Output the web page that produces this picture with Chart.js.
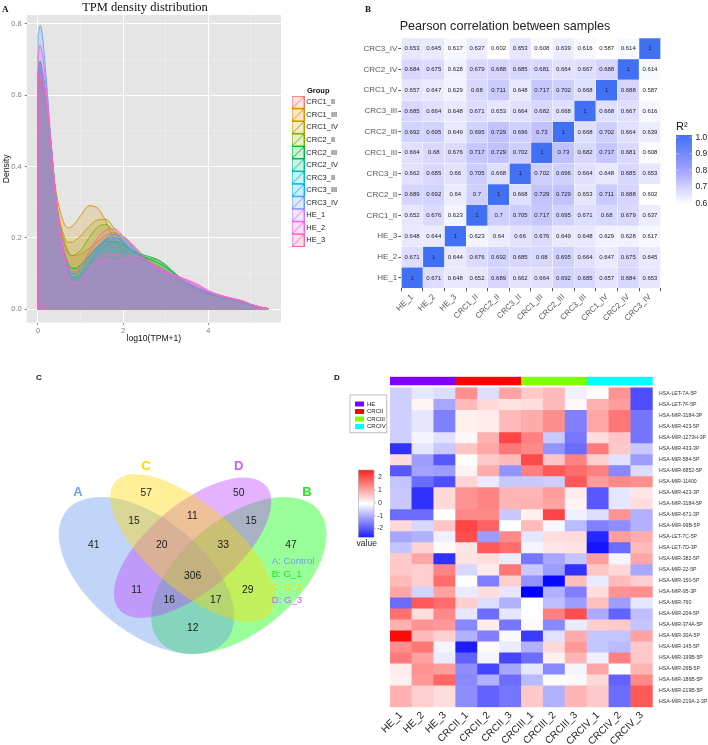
<!DOCTYPE html>
<html><head><meta charset="utf-8">
<script src="https://cdn.jsdelivr.net/npm/chart.js@4"></script>
<style>
html,body{margin:0;padding:0;background:#fff;width:708px;height:745px;overflow:hidden}
canvas{position:absolute;display:block}
.tag{position:absolute;font-weight:bold;color:#111;line-height:1}
</style></head><body>
<canvas id="cA" style="left:0;top:0" width="350" height="345"></canvas>
<canvas id="cB" style="top:0;left:350px" width="358" height="345"></canvas>
<canvas id="cC" style="left:0;top:345px" width="340" height="340"></canvas>
<canvas id="cD" style="left:340px;top:340px" width="368" height="405"></canvas>
<div class="tag" style="left:2px;top:4px;font:bold 9px 'Liberation Serif'">A</div>
<div class="tag" style="left:365px;top:4px;font:bold 9px 'Liberation Serif'">B</div>
<div class="tag" style="left:36px;top:373px;font:bold 8px 'Liberation Sans'">C</div>
<div class="tag" style="left:334px;top:373px;font:bold 8px 'Liberation Sans'">D</div>
<script>
/* ---------- Panel A data ---------- */
const densityGroups=['CRC1_II','CRC1_III','CRC1_IV','CRC2_II','CRC2_III','CRC2_IV','CRC3_II','CRC3_III','CRC3_IV','HE_1','HE_2','HE_3'];
const densityX=[0,.05,.1,.2,.3,.4,.5,.6,.7,.8,.9,1,1.2,1.4,1.6,1.8,2,2.2,2.4,2.6,2.8,3,3.2,3.4,3.6,3.8,4,4.2,4.4,4.6,4.8,5,5.2,5.4];
const crc1II =[.65,.67,.65,.57,.465,.335,.25,.2,.165,.15,.15,.155,.17,.19,.208,.215,.205,.185,.16,.135,.118,.105,.093,.08,.067,.055,.045,.038,.032,.027,.022,.013,.007,.003];
const crc1III=[.625,.645,.63,.565,.465,.35,.285,.245,.228,.232,.245,.262,.29,.283,.245,.195,.17,.152,.142,.132,.122,.108,.093,.078,.065,.053,.042,.036,.03,.026,.02,.012,.006,.002];
const crc1IV =[.62,.64,.62,.56,.465,.34,.255,.21,.188,.188,.195,.205,.232,.25,.252,.225,.19,.165,.152,.143,.138,.122,.1,.082,.067,.054,.043,.036,.03,.026,.021,.012,.006,.002];
const crc2II =[.64,.665,.645,.57,.465,.335,.24,.19,.16,.15,.155,.165,.2,.23,.237,.215,.185,.165,.15,.14,.132,.118,.1,.082,.067,.054,.044,.037,.031,.026,.021,.012,.006,.002];
const crc2III=[.67,.695,.67,.585,.47,.335,.23,.17,.13,.115,.115,.125,.15,.175,.19,.19,.18,.165,.155,.148,.14,.125,.103,.083,.067,.054,.043,.036,.03,.026,.022,.013,.006,.002];
const crc2IV =[.665,.69,.665,.58,.47,.335,.22,.155,.11,.09,.09,.1,.13,.16,.18,.19,.182,.165,.152,.142,.132,.118,.1,.083,.068,.055,.044,.037,.031,.026,.021,.012,.006,.002];
const crc3II =[.65,.672,.65,.575,.47,.335,.22,.16,.12,.1,.1,.11,.145,.175,.195,.2,.19,.17,.15,.13,.115,.103,.09,.078,.067,.056,.047,.04,.034,.028,.023,.014,.007,.002];
const crc3III=[.66,.682,.66,.58,.47,.335,.215,.15,.105,.085,.085,.095,.13,.17,.198,.21,.2,.18,.155,.13,.112,.1,.088,.076,.066,.056,.048,.041,.035,.029,.024,.014,.007,.002];
const crc3IV =[.77,.795,.77,.64,.48,.34,.24,.165,.115,.09,.085,.095,.13,.165,.19,.2,.195,.175,.15,.125,.11,.1,.09,.08,.07,.06,.05,.042,.033,.027,.022,.012,.006,.002];
const he1    =[.66,.685,.66,.585,.47,.335,.215,.15,.1,.078,.075,.082,.11,.135,.138,.135,.14,.142,.135,.125,.115,.105,.095,.083,.072,.06,.048,.04,.034,.029,.024,.014,.007,.002];
const he2    =[.715,.74,.715,.615,.47,.335,.225,.15,.1,.072,.07,.078,.11,.14,.153,.153,.15,.15,.145,.135,.12,.107,.097,.088,.078,.067,.053,.043,.036,.03,.023,.014,.007,.002];
const he3    =[.64,.66,.64,.57,.465,.335,.235,.17,.125,.105,.105,.12,.16,.2,.222,.225,.205,.18,.155,.132,.115,.102,.093,.085,.076,.065,.05,.041,.034,.029,.023,.014,.007,.002];
const densitySeries=[crc1II,crc1III,crc1IV,crc2II,crc2III,crc2IV,crc3II,crc3III,crc3IV,he1,he2,he3];
const densityColors=['#F8766D','#DE8C00','#B79F00','#7CAE00','#00BA38','#00C08B','#00BFC4','#00B4F0','#619CFF','#C77CFF','#F564E3','#FF64B0'];
const xTicksA=[0,1,2,3,4,5], yTicksA=[0,.1,.2,.3,.4,.5,.6,.7,.8];

/* ---------- Panel B data ---------- */
const corrLabels=['HE_1','HE_2','HE_3','CRC1_II','CRC2_II','CRC3_II','CRC1_III','CRC2_III','CRC3_III','CRC1_IV','CRC2_IV','CRC3_IV'];
const corrHE1  =[1,.671,.648,.652,.689,.662,.664,.692,.685,.657,.684,.653];
const corrHE2  =[.671,1,.644,.676,.692,.685,.68,.695,.664,.647,.675,.645];
const corrHE3  =[.648,.644,1,.623,.64,.66,.676,.649,.648,.629,.628,.617];
const corrC1II =[.652,.676,.623,1,.7,.705,.717,.695,.671,.68,.679,.637];
const corrC2II =[.689,.692,.64,.7,1,.668,.729,.729,.653,.711,.688,.602];
const corrC3II =[.662,.685,.66,.705,.668,1,.702,.696,.664,.648,.685,.653];
const corrC1III=[.664,.68,.676,.717,.729,.702,1,.73,.682,.717,.681,.608];
const corrC2III=[.692,.695,.649,.695,.729,.696,.73,1,.668,.702,.664,.639];
const corrC3III=[.685,.664,.648,.671,.653,.664,.682,.668,1,.668,.667,.616];
const corrC1IV =[.657,.647,.629,.68,.711,.648,.717,.702,.668,1,.688,.587];
const corrC2IV =[.684,.675,.628,.679,.688,.685,.681,.664,.667,.688,1,.614];
const corrC3IV =[.653,.645,.617,.637,.602,.653,.608,.639,.616,.587,.614,1];
const corrRows=[corrHE1,corrHE2,corrHE3,corrC1II,corrC2II,corrC3II,corrC1III,corrC2III,corrC3III,corrC1IV,corrC2IV,corrC3IV];
const r2Ticks=[1.0,.9,.8,.7,.6];

/* ---------- Panel C data ---------- */
const vennCounts=[41,57,50,47,15,11,15,20,33,11,306,29,16,17,12];
const vennKey=['A: Control','B: G_1','C: G_2','D: G_3'];
const vennSets=['A','B','C','D'];

/* ---------- Panel D data (top row first) ---------- */
const heatCols=['HE_1','HE_2','HE_3','CRCII_1','CRCII_2','CRCII_3','CRCIII_1','CRCIII_2','CRCIII_3','CRCIV_1','CRCIV_2','CRCIV_3'];
const heatRows=['HSA-LET-7A-5P','HSA-LET-7F-5P','HSA-MIR-3184-3P','HSA-MIR-423-5P','HSA-MIR-1273H-3P','HSA-MIR-433-3P','HSA-MIR-584-5P','HSA-MIR-6852-5P','HSA-MIR-11400','HSA-MIR-423-3P','HSA-MIR-3184-5P','HSA-MIR-671-3P','HSA-MIR-99B-5P','HSA-LET-7C-5P','HSA-LET-7D-3P','HSA-MIR-382-5P','HSA-MIR-22-5P','HSA-MIR-150-5P','HSA-MIR-95-3P','HSA-MIR-760','HSA-MIR-204-5P','HSA-MIR-374A-5P','HSA-MIR-30A-5P','HSA-MIR-145-5P','HSA-MIR-199B-5P','HSA-MIR-26B-5P','HSA-MIR-186B-5P','HSA-MIR-219B-5P','HSA-MIR-219A-2-3P'];
const heatValues=[
[-.5,-.25,-.35,1.15,-.35,.95,.55,.7,-.15,.03,1.1,-1.8],
[-.5,.1,-.9,.7,.4,.3,.35,.7,.05,.8,1,-1.8],
[-.5,-.25,-1.3,.15,.2,.7,.85,1.15,-1.3,.9,1.4,-1.4],
[-.5,-.25,-1.3,.15,.2,.7,.85,1.15,-1.3,.9,1.4,-1.4],
[-.5,-.1,-.3,.08,.8,1.9,1.3,-.55,-1.4,.35,.6,-1.4],
[-2.1,-.25,-.55,.6,.9,1.4,1.2,-1.1,-1.5,1.35,.55,-.55],
[.35,-1,-1.7,.03,.55,.7,1.85,.6,1.3,.5,-.3,-1],
[-1.7,-.95,-1,.12,.85,-1.1,1.3,1.7,1.5,1.3,-1.2,-.35],
[-.6,-1.5,-1.8,.45,-.2,-.55,-.55,-.5,1.7,1,1.2,1.15],
[-.55,-2.1,.4,1.1,1.25,.75,.75,1,.2,-1.7,-.25,.25],
[-.55,-2.1,.4,1.1,1.25,.75,.8,.95,.12,-1.7,-.25,.35],
[-1.5,-1.5,0,1.2,1.2,-.55,.15,1.9,-.15,-.35,1.1,-.8],
[.4,-.4,.6,1.9,1.6,0,.7,-.08,-.7,-1.3,-1.15,-.8],
[-.9,-.8,-.15,1.8,-1,1.2,-.25,.35,.35,-2.2,1,.85],
[-.6,.45,.05,.25,1.7,1.5,-.1,.25,.3,-2.4,-1.5,.7],
[.55,.9,-2.1,.3,.35,-.2,-1.4,-.9,-.6,1,-.1,.9],
[.55,.5,1.25,-.4,.2,1.4,-.55,-1,-2.1,.6,.4,-.9],
[.7,.5,1.5,0,-1.3,.5,-1.1,-2.5,.65,-.2,.7,.5],
[.9,-.45,.95,-.2,.35,-.25,-2.6,-.8,-1.3,.35,1.1,1.15],
[-1.5,1.7,1.5,.5,-.35,-.8,0,-.65,-1,.65,-1,-.25],
[1.45,.35,1.2,-.25,-1.5,-.25,0,1.3,1.8,-.85,-1.6,-.65],
[.8,1.1,1.05,-1.2,.2,-1.4,.05,-1.2,-.2,.5,.55,-.6],
[2.5,.7,.5,-.8,-1.3,-.05,-2,-.3,.85,-.6,-.6,.95],
[1.15,1.4,-.1,-2.3,.05,-.2,-.8,.4,1.05,-.6,-.7,.55],
[1.35,.95,-.2,-1.6,-.1,-1.9,-1.5,.15,.75,-.15,1.3,.55],
[.2,1.1,1,-1.15,-1.9,-.9,-.25,-1.2,-.1,.9,0,.75],
[.15,1.05,1.55,-1.2,-.8,-1.5,-.7,.05,.07,.4,-1.6,1.2],
[.8,.5,.35,-1.15,-1.6,-1.4,.55,-.8,.75,.55,-1.5,1.7],
[.8,.5,.35,-1.15,-1.6,-1.4,.55,-.8,.75,.55,-1.5,1.7]];
const heatGroups=['HE','CRCII','CRCIII','CRCIV'];
const heatGroupOfCol=[0,0,0,1,1,1,2,2,2,3,3,3];
const zTicks=[2,1,0,-1,-2];

/* ---------- layout and style ---------- */
const SANS="'Liberation Sans',Arial,sans-serif";
const groupColors=['#8000FF','#FF0000','#80FF00','#00FFFF'];
const vennInk=['#6f9cf2','#1fe81f','#ffd700','#c65cff'];
/* drawn in this order: B, A, D, C */
const vennFill=['rgba(0,255,0,.4)','rgba(100,149,237,.4)','rgba(191,62,255,.4)','rgba(255,215,0,.4)'];
const vennEllipses=[[238.8,575.5,103,57,-39],[146.5,575.5,103,57,39],[192.6,547.7,96,43.7,-40],[192.6,548,102,43,40.5]];
const vennSetAnchors=[[78,492],[307,492],[146,466],[238.7,466]];
const vennCountAnchors=[[93.7,545],[146.3,493.3],[238.7,493.3],[291,545],[134,520.7],[192.3,515.7],[251,520.7],[161.7,545],[223.3,545],[136.7,589.7],[192.7,575.7],[247.7,589.7],[169.3,600.3],[215.7,600.3],[192.7,628]];
const vennKeyAnchors=[[271.7,561.3],[271.7,574.7],[271.7,587.7],[271.7,600.3]];

Chart.defaults.animation=false;
Chart.defaults.responsive=false;
Chart.defaults.devicePixelRatio=1;
Chart.defaults.font.family=SANS;
Chart.defaults.plugins.tooltip.enabled=false;

function blueRamp(v){
  const lo=[255,255,255],mid=[160,160,255],hi=[66,112,245];
  let a,b,t;
  if(v<=.8){a=lo;b=mid;t=Math.max(0,(v-.6)/.2);}else{a=mid;b=hi;t=Math.min(1,(v-.8)/.2);}
  return 'rgb('+a.map((c,i)=>Math.round(c+(b[i]-c)*t)).join(',')+')';
}
function divRamp(z){
  const k=Math.round(255*(1-Math.min(1,Math.abs(z)/2.6)));
  return z>=0?`rgb(255,${k},${k})`:`rgb(${k},${k},255)`;
}
function fixWidth(w){return s=>{s.width=w;};}
function fixHeight(h){return s=>{s.height=h;};}
function moveLegend(chart,x,y){
  const l=chart.legend,w=l.width,h=l.height;
  l.left=x;l.top=y;l.right=x+w;l.bottom=y+h;
}
function keyImage(col){
  const c=document.createElement('canvas');c.width=13;c.height=13;
  const g=c.getContext('2d');
  g.globalAlpha=.2;g.fillStyle=col;g.fillRect(0,0,13,13);
  g.globalAlpha=1;g.strokeStyle=col;g.lineWidth=1;g.strokeRect(.5,.5,12,12);
  g.beginPath();g.moveTo(.5,12.5);g.lineTo(12.5,.5);g.stroke();
  return c;
}

/* ---------- Panel A ---------- */
new Chart(document.getElementById('cA'),{
  type:'scatter',
  data:{datasets:[...densityGroups.map((g,i)=>({
    label:g,
    data:[{x:densityX[0],y:0},...densityX.map((x,k)=>({x,y:densitySeries[i][k]})),{x:densityX[densityX.length-1],y:0}],
    showLine:true,fill:'origin',pointRadius:0,borderWidth:.9,
    borderColor:densityColors[i],backgroundColor:densityColors[i]+'33',
    cubicInterpolationMode:'monotone',order:12-i
  })),{label:'baseline',data:[{x:densityX[0],y:0},{x:densityX[densityX.length-1],y:0}],
    showLine:true,fill:false,pointRadius:0,borderWidth:1.2,borderColor:densityColors[11],order:0}]},
  options:{
    layout:{padding:{left:0,right:69,top:0,bottom:0}},
    scales:{
      x:{type:'linear',min:-.265,max:5.71,
        afterBuildTicks:s=>{s.ticks=xTicksA.map(value=>({value}));},
        afterFit:fixHeight(22.3),
        border:{display:false},
        grid:{drawTicks:true,tickLength:2,tickColor:c=>c.tick&&c.tick.value%2===0?'#7f7f7f':'rgba(0,0,0,0)',
              color:c=>c.tick&&c.tick.value%2===0?'#ffffff':'#f0f0f0',lineWidth:c=>c.tick&&c.tick.value%2===0?1:.5},
        ticks:{autoSkip:false,maxRotation:0,padding:2,color:'#7f7f7f',font:{size:7.5},
               callback:v=>v%2===0?String(v):''},
        title:{display:true,text:'log10(TPM+1)',color:'#111',font:{size:8.6},padding:{top:0,bottom:1}}
      },
      y:{type:'linear',min:-.0375,max:.824,
        afterBuildTicks:s=>{s.ticks=yTicksA.map(value=>({value}));},
        afterFit:fixWidth(26.7),
        border:{display:false},
        grid:{drawTicks:true,tickLength:2,
              tickColor:c=>c.tick&&Math.round(c.tick.value*10)%2===0?'#7f7f7f':'rgba(0,0,0,0)',
              color:c=>c.tick&&Math.round(c.tick.value*10)%2===0?'#ffffff':'#f0f0f0',
              lineWidth:c=>c.tick&&Math.round(c.tick.value*10)%2===0?1:.5},
        ticks:{autoSkip:false,padding:3,color:'#7f7f7f',font:{size:7.5},
               callback:v=>Math.round(v*10)%2===0?v.toFixed(1):''},
        title:{display:true,text:'Density',color:'#111',font:{size:8.6},padding:{top:1,bottom:0}}
      }
    },
    plugins:{
      title:{display:true,text:'TPM density distribution',color:'#111',
        font:{family:"'Liberation Serif',serif",size:12.5,weight:'normal'},padding:{top:0,bottom:0}},
      legend:{display:true,position:'chartArea',align:'start',
        title:{display:true,text:'Group',color:'#111',font:{size:7.5,weight:'bold'},padding:{top:0,bottom:-2.5}},
        labels:{usePointStyle:true,pointStyleWidth:9,padding:5.05,color:'#222',font:{size:7.5},
          generateLabels:()=>densityGroups.map((g,i)=>({text:g,pointStyle:keyImage(densityColors[i]),fontColor:'#222',datasetIndex:i,hidden:false,lineWidth:0}))}
      }
    }
  },
  plugins:[{id:'placeA',
    afterLayout(ch){
      moveLegend(ch,288.5,87);
      const t=ch.titleBlock;t.left+=4.5;t.right+=4.5;
    },
    beforeDraw(ch){
      const a=ch.chartArea,c=ch.ctx;c.save();c.fillStyle='#e5e5e5';c.fillRect(a.left,a.top,a.width,a.height);c.restore();
    }
  }]
});

/* ---------- Panel B ---------- */
new Chart(document.getElementById('cB'),{
  type:'bar',
  data:{labels:corrLabels,datasets:corrRows.map((row,r)=>({
    label:corrLabels[r],
    data:row.map(()=>[r,r+1]),
    backgroundColor:row.map(blueRamp),
    borderColor:'rgba(255,255,255,.3)',borderWidth:.5,
    barPercentage:1,categoryPercentage:1,grouped:false
  }))},
  options:{
    layout:{padding:{left:0,right:47.3,top:0,bottom:0}},
    scales:{
      x:{offset:true,afterFit:fixHeight(56.7),border:{display:false},
        grid:{drawOnChartArea:false,drawTicks:true,tickLength:3,tickColor:'#555'},
        ticks:{autoSkip:false,minRotation:45,maxRotation:45,padding:1,color:'#555',font:{size:8}}},
      y:{type:'linear',min:0,max:12,
        afterBuildTicks:s=>{s.ticks=corrLabels.map((_,i)=>({value:i+.5}));},
        afterFit:fixWidth(51.3),border:{display:false},
        grid:{drawOnChartArea:false,drawTicks:true,tickLength:3,tickColor:'#555'},
        ticks:{autoSkip:false,padding:1,color:'#555',font:{size:8},callback:v=>corrLabels[v-.5]}}
    },
    plugins:{
      legend:{display:false},
      title:{display:true,text:'Pearson correlation between samples',align:'start',color:'#222',
        font:{size:12.6,weight:'normal'},padding:{top:19,bottom:4}}
    }
  },
  plugins:[{id:'cellsB',
    afterLayout(ch){const t=ch.titleBlock;const d=49.7-t.left;t.left+=d;t.right+=d;},
    afterDatasetsDraw(ch){
      const c=ch.ctx,X=ch.scales.x,Y=ch.scales.y;
      c.save();c.fillStyle='#222';c.font='6px '+SANS;c.textAlign='center';c.textBaseline='middle';
      corrRows.forEach((row,r)=>row.forEach((v,k)=>{
        c.fillText(String(v),X.getPixelForValue(k),Y.getPixelForValue(r+.5));
      }));
      const left=326,w=16,top=135,bot=204;
      const g=c.createLinearGradient(0,top,0,bot);
      [1,.95,.9,.85,.8,.75,.7,.65,.6].forEach(v=>g.addColorStop((1-v)/.4,blueRamp(v)));
      c.fillStyle=g;c.fillRect(left,top,w,bot-top);
      c.fillStyle='#222';c.font='8.5px '+SANS;c.textAlign='left';
      const yy=v=>137.3+(1-v)*165.5;
      r2Ticks.forEach(v=>{
        const y=yy(v);
        c.fillText(v.toFixed(1),left+w+3.5,y);
        c.strokeStyle='rgba(255,255,255,.8)';c.lineWidth=.5;
        c.beginPath();c.moveTo(left,y);c.lineTo(left+3,y);c.moveTo(left+w-3,y);c.lineTo(left+w,y);c.stroke();
      });
      c.font='11px '+SANS;c.textBaseline='alphabetic';c.fillStyle='#111';c.fillText('R²',left,130);
      c.restore();
    }
  }]
});

/* ---------- Panel C ---------- */
new Chart(document.getElementById('cC'),{
  type:'scatter',
  data:{datasets:[{label:'Shared miRNA counts',pointRadius:0,
    data:vennCounts.map((v,i)=>({x:vennCountAnchors[i][0],y:vennCountAnchors[i][1],v}))}]},
  options:{
    layout:{padding:0},
    scales:{x:{type:'linear',min:0,max:340,display:false},y:{type:'linear',min:345,max:685,reverse:true,display:false}},
    plugins:{legend:{display:false},title:{display:false}}
  },
  plugins:[{id:'venn',
    afterDatasetsDraw(ch){
      const c=ch.ctx,X=ch.scales.x,Y=ch.scales.y;
      c.save();
      vennEllipses.forEach((e,i)=>{
        c.fillStyle=vennFill[i];c.beginPath();
        c.ellipse(X.getPixelForValue(e[0]),Y.getPixelForValue(e[1]),e[2],e[3],e[4]*Math.PI/180,0,Math.PI*2);c.fill();
      });
      c.textAlign='center';c.textBaseline='middle';
      c.font='bold 13px '+SANS;
      vennSets.forEach((s,i)=>{c.fillStyle=vennInk[i];c.fillText(s,X.getPixelForValue(vennSetAnchors[i][0]),Y.getPixelForValue(vennSetAnchors[i][1]));});
      c.font='10.3px '+SANS;c.fillStyle='#1a1a1a';
      ch.data.datasets[0].data.forEach(p=>c.fillText(String(p.v),X.getPixelForValue(p.x),Y.getPixelForValue(p.y)));
      c.textAlign='left';c.font='9.6px '+SANS;
      vennKey.forEach((s,i)=>{c.fillStyle=vennInk[i];c.fillText(s,X.getPixelForValue(vennKeyAnchors[i][0]),Y.getPixelForValue(vennKeyAnchors[i][1]));});
      c.restore();
    }
  }]
});

/* ---------- Panel D ---------- */
const nRows=heatRows.length;
new Chart(document.getElementById('cD'),{
  type:'bar',
  data:{labels:heatCols,datasets:[
    ...heatRows.map((name,r)=>({
      label:name,
      data:heatValues[r].map(()=>[nRows-1-r,nRows-r]),
      backgroundColor:heatValues[r].map(divRamp),
      borderWidth:0,barPercentage:1,categoryPercentage:1,grouped:false})),
    {label:'group',data:heatCols.map(()=>[nRows+.25,nRows+1]),
     backgroundColor:heatGroupOfCol.map(g=>groupColors[g]),
     borderWidth:0,barPercentage:1,categoryPercentage:1,grouped:false}
  ]},
  options:{
    layout:{padding:{left:50,right:0,top:36.7,bottom:0}},
    scales:{
      x:{offset:true,afterFit:fixHeight(37.7),border:{display:false},grid:{display:false,drawTicks:false},
        ticks:{autoSkip:false,minRotation:45,maxRotation:45,padding:2,color:'#222',font:{size:10}}},
      y:{type:'linear',position:'right',min:0,max:nRows+1,
        afterBuildTicks:s=>{s.ticks=heatRows.map((_,i)=>({value:i+.5}));},
        afterFit:fixWidth(55.3),border:{display:false},grid:{display:false,drawTicks:false},
        ticks:{autoSkip:false,padding:6.3,color:'#333',font:{size:5.2},callback:v=>heatRows[nRows-1-(v-.5)]}}
    },
    plugins:{
      title:{display:false},
      legend:{display:true,position:'chartArea',align:'start',
        labels:{boxWidth:9,boxHeight:5,padding:1.5,color:'#222',font:{size:6},
          generateLabels:()=>heatGroups.map((g,i)=>({text:g,fillStyle:groupColors[i],strokeStyle:groupColors[i],lineWidth:0,fontColor:'#222',hidden:false}))}
      }
    }
  },
  plugins:[{id:'keysD',
    afterLayout(ch){moveLegend(ch,13.5,59.5);},
    beforeDraw(ch){
      const c=ch.ctx;c.save();c.strokeStyle='#c8c8c8';c.lineWidth=1.2;c.strokeRect(10,55,36.7,37.7);c.restore();
    },
    afterDraw(ch){
      const c=ch.ctx,L=18.3,W=15.7,T=130,B=197.3;
      c.save();
      const g=c.createLinearGradient(0,T,0,B);
      g.addColorStop(0,'#ff2020');g.addColorStop(.5,'#ffffff');g.addColorStop(1,'#2020ff');
      c.fillStyle=g;c.fillRect(L,T,W,B-T);
      c.strokeStyle='#aaa';c.lineWidth=.6;c.strokeRect(L,T,W,B-T);
      c.fillStyle='#333';c.font='7px '+SANS;c.textAlign='left';c.textBaseline='middle';
      zTicks.forEach(z=>{
        const y=162.9-z*12.8;
        c.beginPath();c.moveTo(L+W,y);c.lineTo(L+W+2,y);c.stroke();
        c.fillText(String(z),L+W+(z<0?3:4),y);
      });
      c.font='8.5px '+SANS;c.textAlign='center';c.fillStyle='#222';c.fillText('value',26.7,204);
      c.restore();
    }
  }]
});
</script>
</body></html>
